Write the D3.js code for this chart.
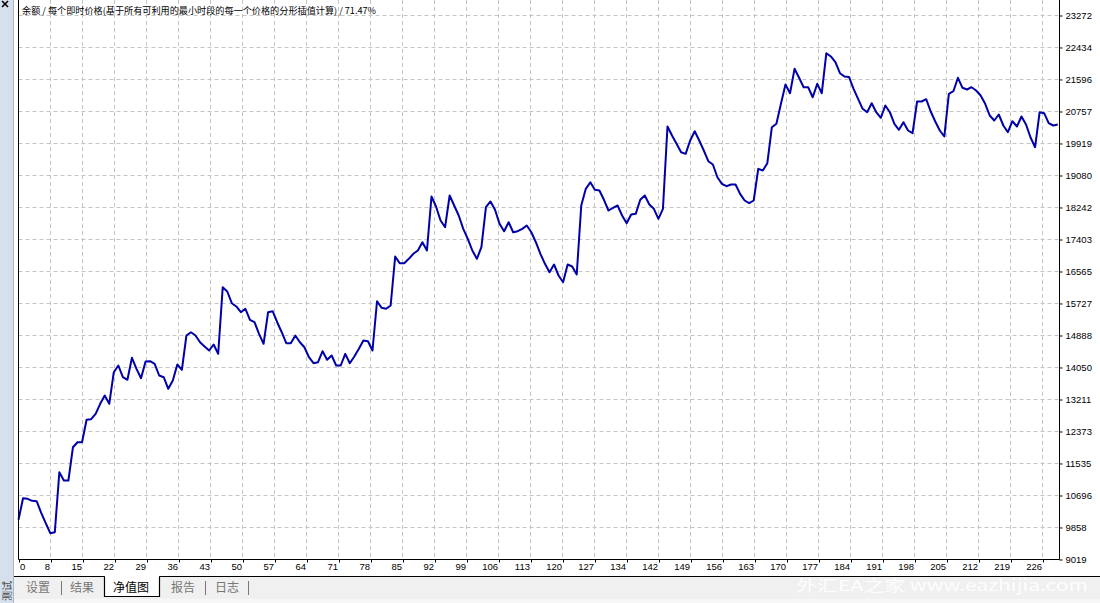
<!DOCTYPE html>
<html>
<head>
<meta charset="utf-8">
<script src="https://cdn.jsdelivr.net/npm/d3@7"></script>
<style>
  html, body { margin: 0; padding: 0; background: #fff; }
  svg { display: block; }
</style>
</head>
<body>
<script>
// ---------------- DATA ----------------
const titleText = "余额 / 每个即时价格(基于所有可利用的最小时段的每一个价格的分形插值计算) / 71.47%";

const equity = [
10059,10625,10609,10557,10546,10243,9970,9708,9734,11306,
11089,11089,11961,12092,12092,12679,12695,12836,13098,13316,
13098,13926,14102,13795,13727,14304,14015,13769,14207,14214,
14146,13840,13795,13491,13709,14128,13989,14888,14974,14888,
14712,14600,14495,14652,14408,16153,16041,15734,15648,15498,
15587,15299,15236,14932,14670,15498,15524,15236,14974,14686,
14686,14888,14712,14581,14319,14162,14188,14476,14251,14364,
14102,14102,14408,14162,14338,14539,14757,14738,14495,15786,
15614,15587,15674,16958,16782,16782,16897,17028,17115,17332,
17115,18530,18268,17901,17725,18556,18294,18032,17683,17421,
17115,16897,17201,18249,18399,18181,17814,17620,17856,17594,
17620,17683,17770,17594,17332,17028,16766,16546,16748,16460,
16284,16748,16696,16486,18294,18731,18904,18705,18687,18443,
18163,18234,18294,18032,17830,18058,18076,18443,18556,18320,
18207,17945,18207,20364,20128,19910,19690,19648,19997,20240,
19997,19735,19454,19368,19035,18862,18799,18844,18844,18600,
18425,18354,18425,19255,19211,19402,20345,20434,20958,21464,
21236,21875,21640,21393,21393,21131,21482,21236,22284,22198,
22048,21760,21674,21661,21351,21089,20827,20738,20974,20738,
20592,20914,20738,20434,20277,20476,20259,20188,21019,21019,
21079,20757,20495,20259,20102,21220,21288,21640,21378,21333,
21393,21307,21176,20958,20652,20521,20678,20390,20214,20502,
20364,20626,20416,20075,19821,20738,20712,20450,20390,20416
];

const xTickLabels = [0,8,15,22,29,36,43,50,57,64,71,78,85,92,99,106,113,120,127,134,142,149,156,163,170,177,184,191,198,205,212,219,226];
const xTickStep = 7.051; // trades per x grid interval
const yTickLabels = [9019,9858,10696,11535,12373,13211,14050,14888,15727,16565,17403,18242,19080,19919,20757,21596,22434,23272];
const tabLabels = ["设置","结果","净值图","报告","日志"];
const activeTab = "净值图";
const sideLabel = "测试";
const watermark = "外汇EA之家 www.eazhijia.com";

// ---------------- LAYOUT ----------------
const W = 1100, H = 603;
const plotLeft = 18.5, plotRight = 1059.5, plotTop = 0, plotBottom = 559.5;
const gridPx = 32;

const svg = d3.select("body").append("svg").attr("width", W).attr("height", H);
svg.append("rect").attr("x",0).attr("y",0).attr("width",W).attr("height",H).attr("fill","#ffffff");

const x = d3.scaleLinear()
  .domain([0, equity.length - 1])
  .range([plotLeft, plotLeft + (equity.length - 1) * gridPx / xTickStep]);
const y = d3.scaleLinear()
  .domain([yTickLabels[0], yTickLabels[yTickLabels.length - 1]])
  .range([plotBottom, 15.5]);

const tickFont = "'Liberation Sans', Arial, sans-serif";

// gridlines
const xTickVals = xTickLabels.map((d, k) => k * xTickStep);
svg.append("g").selectAll("line").data(xTickVals.slice(1)).join("line")
  .attr("x1", d => Math.round(x(d) - 0.5) + 0.5).attr("x2", d => Math.round(x(d) - 0.5) + 0.5)
  .attr("y1", plotTop).attr("y2", plotBottom)
  .attr("stroke", "#c4c4c4").attr("stroke-width", 1).attr("stroke-dasharray", "4,3");
svg.append("g").selectAll("line").data(yTickLabels.slice(1)).join("line")
  .attr("x1", plotLeft).attr("x2", plotRight)
  .attr("y1", d => Math.round(y(d) - 0.5) + 0.5).attr("y2", d => Math.round(y(d) - 0.5) + 0.5)
  .attr("stroke", "#c4c4c4").attr("stroke-width", 1).attr("stroke-dasharray", "4,3");

// title
svg.append("text")
  .attr("x", 22).attr("y", 14)
  .attr("font-family", "'Noto Sans CJK SC', sans-serif")
  .attr("font-size", 9)
  .attr("fill", "#000")
  .attr("textLength", 354).attr("lengthAdjust", "spacingAndGlyphs")
  .text(titleText);

// equity line
svg.append("path")
  .datum(equity)
  .attr("d", d3.line().x((d, i) => x(i)).y(d => y(d)))
  .attr("fill", "none")
  .attr("stroke", "#0000aa")
  .attr("stroke-width", 2)
  .attr("stroke-linejoin", "round");

// borders
svg.append("line").attr("x1", plotLeft).attr("x2", plotLeft).attr("y1", 0).attr("y2", plotBottom).attr("stroke", "#000");
svg.append("line").attr("x1", plotRight).attr("x2", plotRight).attr("y1", 0).attr("y2", plotBottom).attr("stroke", "#000");
svg.append("line").attr("x1", plotLeft).attr("x2", plotRight).attr("y1", plotBottom).attr("y2", plotBottom).attr("stroke", "#000");

// x axis
const xAxis = d3.axisBottom(x)
  .tickValues(xTickVals)
  .tickFormat((d, k) => xTickLabels[k])
  .tickSize(3).tickPadding(1);
const gx = svg.append("g").attr("transform", `translate(0,${plotBottom})`).call(xAxis);
gx.select(".domain").remove();
gx.selectAll(".tick line").attr("stroke", "#000").attr("transform", "translate(0.5,0)");
gx.selectAll(".tick text")
  .attr("font-family", tickFont).attr("font-size", 9.5).attr("fill", "#000")
  .attr("text-anchor", (d, k) => k === 0 ? "start" : "end")
  .attr("x", (d, k) => k === 0 ? 1 : -1)
  .attr("dy", "0.75em").attr("y", 3);

// y axis (right)
const yAxis = d3.axisRight(y)
  .tickValues(yTickLabels)
  .tickFormat(d => d)
  .tickSize(3).tickPadding(3);
const gy = svg.append("g").attr("transform", `translate(${plotRight},0)`).call(yAxis);
gy.select(".domain").remove();
gy.selectAll(".tick line").attr("stroke", "#000");
gy.selectAll(".tick text")
  .attr("font-family", tickFont).attr("font-size", 9.5).attr("fill", "#000");

// left strip
svg.append("rect").attr("x", 0).attr("y", 0).attr("width", 13).attr("height", H).attr("fill", "#d5e0ec");
svg.append("line").attr("x1", 13.5).attr("x2", 13.5).attr("y1", 0).attr("y2", H).attr("stroke", "#a9b7c6");
// close "x"
svg.append("line").attr("x1", 2).attr("y1", 1).attr("x2", 8).attr("y2", 7).attr("stroke", "#000").attr("stroke-width", 1.6);
svg.append("line").attr("x1", 8).attr("y1", 1).attr("x2", 2).attr("y2", 7).attr("stroke", "#000").attr("stroke-width", 1.6);
svg.append("text")
  .attr("transform", "translate(10.5,601) rotate(-90)")
  .attr("font-family", "'Noto Sans CJK SC', sans-serif")
  .attr("font-size", 10).attr("fill", "#444")
  .text(sideLabel);

// tab bar
svg.append("rect").attr("x", 14).attr("y", 576).attr("width", W - 14).attr("height", 23).attr("fill", "#f0f0f0");
svg.append("rect").attr("x", 14).attr("y", 599).attr("width", W - 14).attr("height", 4).attr("fill", "#f7f7f7");
svg.append("line").attr("x1", 14).attr("x2", W).attr("y1", 576.5).attr("y2", 576.5).attr("stroke", "#000");

const tabCenters = [38, 82, 131, 183, 227];
const sepX = [61, 205, 248];
const tabs = svg.append("g");
tabs.append("path")
  .attr("d", `M104.5,576.5 V596.5 H159.5 V576.5`)
  .attr("fill", "#ffffff").attr("stroke", "#000").attr("stroke-width", 1.2);
tabs.append("rect").attr("x", 105).attr("y", 576).attr("width", 54).attr("height", 1.5).attr("fill", "#fff");
tabs.selectAll("text").data(tabLabels).join("text")
  .attr("x", (d, i) => tabCenters[i]).attr("y", 592)
  .attr("text-anchor", "middle")
  .attr("font-family", "'Noto Sans CJK SC', sans-serif")
  .attr("font-size", 12)
  .attr("fill", d => d === activeTab ? "#000" : "#777")
  .text(d => d);
tabs.selectAll("line.sep").data(sepX).join("line").attr("class", "sep")
  .attr("x1", d => d + 0.5).attr("x2", d => d + 0.5).attr("y1", 581).attr("y2", 595)
  .attr("stroke", "#777");

// watermark
svg.append("text")
  .attr("x", 796).attr("y", 591)
  .attr("font-family", "'Noto Sans CJK SC', sans-serif")
  .attr("font-size", 15).attr("fill", "#ffffff").attr("fill-opacity", 0.9)
  .attr("textLength", 292).attr("lengthAdjust", "spacingAndGlyphs")
  .text(watermark);
</script>
</body>
</html>
